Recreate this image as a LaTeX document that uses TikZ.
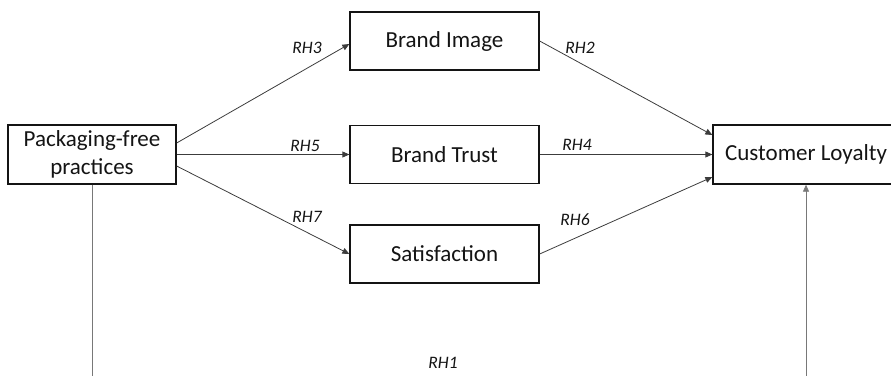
\documentclass[tikz,border=0pt]{standalone}
\usepackage{fontspec}
\setmainfont{Carlito}
\usetikzlibrary{arrows.meta,positioning}
\definecolor{ink}{RGB}{20,20,20}
\definecolor{wire}{RGB}{60,60,60}
\definecolor{pole}{RGB}{120,120,120}
\tikzset{
  >={Triangle[length=7pt,width=6pt]},
  var/.style={draw=ink,line width=1.3pt,minimum height=58pt,minimum width=#1,
    inner sep=0pt,align=center,font=\fontsize{23}{28}\selectfont,text=ink},
  var/.default=189pt,
  path/.style={->,draw=wire,line width=0.8pt},
  rh/.style={font=\fontsize{17.5}{20}\selectfont\itshape,text=ink,inner sep=0pt},
}
\begin{document}
\begin{tikzpicture}[x=1pt,y=-1pt]
  \useasboundingbox (0,0) rectangle (891,375);
  % constructs
  \node[var=168pt,minimum height=59pt] (pack) at (92,154.5) {Packaging-free\\practices};
  \node[var] (img) at (444.5,41) {Brand Image};
  \node[var] (trust) at (444.5,154.5) {Brand Trust};
  \node[var] (sat) at (444.5,254) {Satisfaction};
  \node[var=186pt,minimum height=59pt] (loyal) at (806,154.5) {Customer Loyalty};
  \coordinate (bl) at (92,380);
  \coordinate (br) at (806,380);
  % hypothesised paths
  \draw[path] ([yshift=11.5pt]pack.east) -- ([yshift=-3pt]img.west);
  \draw[path] (pack.east) -- (trust.west);
  \draw[path] ([yshift=-11.5pt]pack.east) -- (sat.west);
  \draw[path] (img.east) -- ([yshift=19.5pt]loyal.west);
  \draw[path] (trust.east) -- (loyal.west);
  \draw[path] (sat.east) -- ([yshift=-22.5pt]loyal.west);
  \draw[draw=pole,line width=0.8pt] (pack.south) -- (bl);
  \draw[path,draw=pole] (br) -- (loyal.south);
  % labels
  \node[rh] at (307,48) {RH3};
  \node[rh] at (580,48) {RH2};
  \node[rh] at (305,146) {RH5};
  \node[rh] at (577,145) {RH4};
  \node[rh] at (307,217) {RH7};
  \node[rh] at (575,220) {RH6};
  \node[rh] at (443,363) {RH1};
\end{tikzpicture}
\end{document}
